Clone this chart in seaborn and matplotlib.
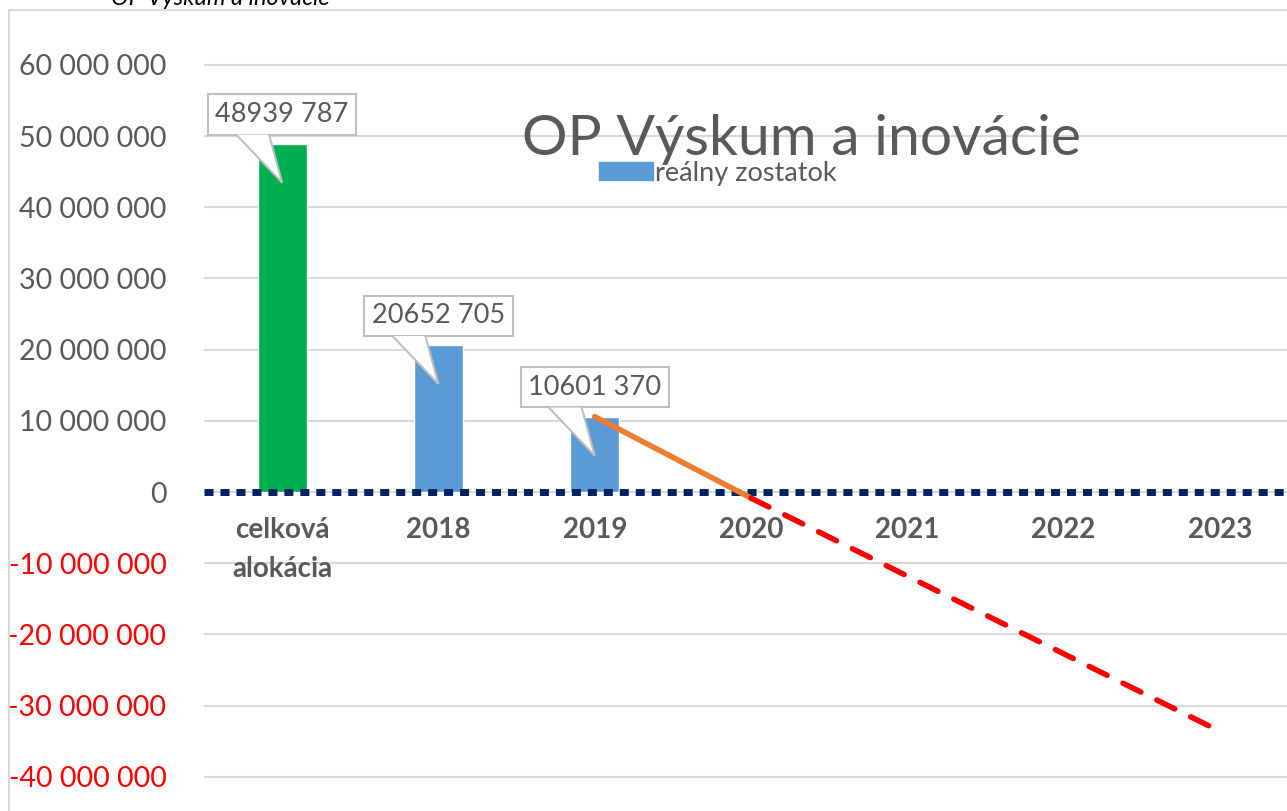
import numpy as np
import pandas as pd
import matplotlib
matplotlib.use('Agg')
import matplotlib.pyplot as plt
import matplotlib.transforms as mtransforms
import seaborn as sns
from matplotlib.patches import Patch, Rectangle, Polygon
from matplotlib.ticker import FuncFormatter

# data
categories = ['celková\nalokácia', '2018', '2019', '2020', '2021', '2022', '2023']
bar_cats = ['celková\nalokácia', '2018', '2019']
bar_values = [48939787, 20652705, 10601370]
bar_labels = ['48939 787', '20652 705', '10601 370']
bar_colors = ['#00B050', '#5B9BD5', '#5B9BD5']

real_x = [2, 3]
real_y = [10601370, -840000]
forecast_x = [3, 4, 5, 6]
forecast_y = [-840000, -11800000, -22700000, -33600000]

y_ticks = list(range(-40000000, 60000001, 10000000))

sns.set_theme(style='white')
plt.rcParams['font.family'] = ['Lato', 'DejaVu Sans']

gray = '#595959'
edge = '#BFBFBF'

fig = plt.figure(figsize=(12.87, 8.11), dpi=100)
ax = fig.add_axes([204 / 1287, 0.0, 1 - 204 / 1287, 1 - 35 / 811])

df = pd.DataFrame({'cat': bar_cats, 'val': bar_values})
sns.barplot(data=df, x='cat', y='val', hue='cat', order=categories,
            palette=dict(zip(bar_cats, bar_colors)), width=0.315,
            dodge=False, legend=False, saturation=1, ax=ax, zorder=2)

# zero line
ax.axhline(0, color='#002060', lw=5, linestyle=(0, (1.3, 1.0)),
           dash_capstyle='butt', zorder=3)

sns.lineplot(x=real_x, y=real_y, color='#ED7D31', lw=4, ax=ax, zorder=4,
             solid_capstyle='round')
sns.lineplot(x=forecast_x, y=forecast_y, color='#FF0000', lw=4, ax=ax, zorder=4,
             linestyle=(0, (3.6, 3.2)), dash_capstyle='round')

ax.set_xlim(-0.5, (1287 - 282) / 156.3)
ax.set_ylim(-44800000, 64200000)
ax.set_yticks(y_ticks)
ax.yaxis.grid(True, color='#D9D9D9', lw=1.5)
ax.set_axisbelow(True)
ax.yaxis.set_major_formatter(FuncFormatter(lambda v, p: f'{int(v):,}'.replace(',', ' ')))
ax.tick_params(axis='y', length=0, pad=27, labelsize=20.5, labelcolor=gray)
for lbl, v in zip(ax.get_yticklabels(), y_ticks):
    if v < 0:
        lbl.set_color('#FF0000')
ax.set_xticks([])
ax.set_xlabel('')
ax.set_ylabel('')
for s in ax.spines.values():
    s.set_visible(False)

# category labels just below the zero line
for i, c in enumerate(categories):
    ax.annotate(c, xy=(i, 0), xytext=(0, -18), textcoords='offset points',
                ha='center', va='top', fontsize=20, fontweight='bold',
                color=gray, linespacing=1.6)

# callout labels: box above the bar top, pointer going into the bar
ptr = np.array([[-0.46, 0.09], [0.0, -0.39], [-0.13, 0.09]])  # inches from bar top
for i, (v, t) in enumerate(zip(bar_values, bar_labels)):
    ax.annotate(t, xy=(i, v), xytext=(0, 21), textcoords='offset points',
                ha='center', va='center', fontsize=19.5, color=gray, zorder=6,
                bbox=dict(boxstyle='square,pad=0.28', fc='white', ec=edge, lw=1.5))
    tr = fig.dpi_scale_trans + mtransforms.ScaledTranslation(i, v, ax.transData)
    ax.add_patch(Polygon(ptr, closed=True, fc='white', ec='none',
                         transform=tr, zorder=7))
    ax.plot(ptr[:, 0], ptr[:, 1], color=edge, lw=1.5, transform=tr, zorder=7,
            solid_joinstyle='miter')

# titles and legend
fig.text(802 / 1287, 1 - 155 / 811, 'OP Výskum a inovácie', ha='center',
         va='baseline', fontsize=41, color=gray)
fig.text(220 / 1287, 1 - 5 / 811, 'OP Výskum a inovácie', ha='center',
         va='baseline', fontsize=17, style='italic', color='black')
fig.legend(handles=[Patch(color='#5B9BD5', label='reálny zostatok')],
           loc='center left', bbox_to_anchor=(585 / 1287, 1 - 173 / 811),
           frameon=False, fontsize=19.5, labelcolor=gray, handlelength=2.0,
           handleheight=0.6, handletextpad=0.1, borderpad=0)

# chart area border
fig.patches.append(Rectangle((9 / 1287, -0.1), 1.2, 1 - 10 / 811 + 0.1,
                             transform=fig.transFigure, fill=False,
                             ec='#D9D9D9', lw=1.5))

fig.savefig('out.png', dpi=100)
